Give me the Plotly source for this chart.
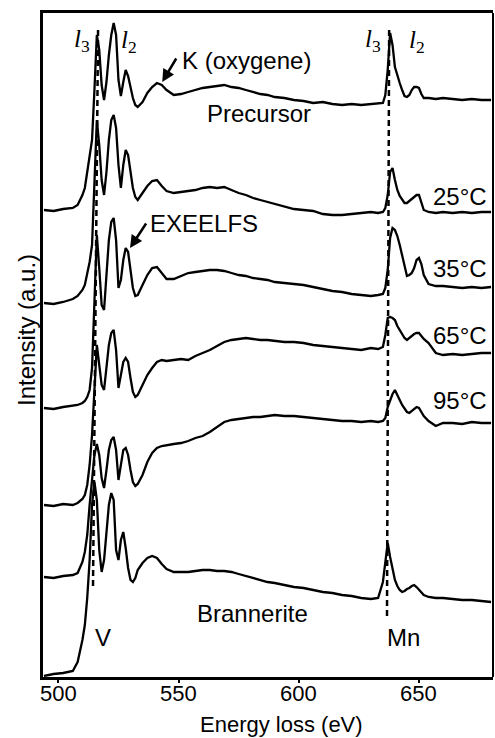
import plotly.graph_objects as go

# Energy grid (eV) shared by all spectra
energy = [494, 498, 502, 506, 508, 510, 511, 512, 513, 514,
          515, 516, 517, 518, 519, 520, 521, 522, 523, 524,
          525, 526, 527, 528, 529, 530, 531, 532, 533, 535,
          537, 539, 541, 543, 545, 548, 551, 554, 557, 560,
          563, 566, 569, 572, 575, 578, 581, 584, 587, 590,
          594, 598, 602, 606, 610, 614, 618, 622, 626, 630,
          633, 635, 636, 637, 638, 639, 640, 641, 642, 643,
          644, 645, 646, 647, 648, 649, 650, 651, 652, 654,
          657, 660, 664, 668, 672, 676, 680]

# Stacked EELS intensities (a.u., offset for display)
precursor = [490, 489, 491, 492, 495, 505, 512, 527, 542, 560,
             610, 665, 650, 615, 600, 618, 645, 665, 677, 665,
             620, 604, 618, 630, 624, 612, 602, 595, 593, 598,
             607, 613, 617, 615, 610, 605, 606, 608, 610, 612,
             613, 614, 615, 613, 612, 610, 608, 606, 605, 603,
             602, 600, 599, 597, 598, 596, 595, 596, 595, 596,
             596, 597, 605, 630, 667, 655, 633, 624, 617, 610,
             604, 603, 605, 610, 613, 613, 612, 606, 602, 602,
             601, 602, 601, 600, 601, 600, 600]

t25 = [397, 396, 398, 401, 404, 410, 415, 425, 438, 455,
       520, 580, 555, 520, 505, 528, 560, 580, 585, 572,
       535, 512, 535, 550, 545, 528, 512, 503, 500, 507,
       514, 519, 520, 514, 509, 507, 508, 509, 510, 512,
       513, 512, 513, 510, 507, 505, 502, 500, 498, 496,
       494, 491, 490, 489, 486, 485, 485, 486, 487, 488,
       487, 488, 492, 505, 528, 532, 520, 510, 504, 500,
       497, 497, 499, 501, 503, 505, 505, 497, 490, 488,
       487, 488, 487, 488, 487, 488, 488]

t35 = [292, 291, 293, 294, 295, 297, 299, 303, 310, 332,
       400, 465, 432, 395, 390, 428, 460, 478, 482, 460,
       412, 420, 440, 452, 448, 430, 412, 404, 405, 415,
       425, 432, 433, 427, 421, 421, 424, 427, 428, 429,
       430, 430, 429, 427, 425, 424, 422, 421, 420, 418,
       417, 416, 415, 413, 411, 409, 408, 406, 405, 404,
       405, 406, 412, 430, 462, 472, 470, 464, 455, 444,
       432, 424, 425, 427, 432, 440, 442, 436, 425, 416,
       414, 414, 413, 412, 413, 412, 413]

t65 = [195, 194, 196, 195, 197, 201, 205, 215, 235, 265,
       310, 355, 335, 315, 310, 335, 355, 367, 370, 350,
       312, 325, 338, 342, 338, 322, 308, 303, 305, 315,
       325, 332, 338, 340, 339, 340, 341, 340, 344, 347,
       350, 354, 358, 360, 361, 362, 361, 360, 360, 359,
       358, 358, 357, 355, 354, 353, 352, 351, 350, 352,
       351, 353, 365, 382, 383, 382, 380, 374, 370, 365,
       362, 360, 362, 364, 366, 367, 367, 364, 361, 357,
       347, 345, 346, 345, 346, 347, 347]

t95 = [123, 122, 124, 125, 127, 138, 148, 165, 195, 222,
       245, 256, 245, 222, 212, 230, 250, 260, 263, 250,
       220, 235, 250, 252, 245, 230, 218, 214, 216, 225,
       238, 247, 252, 254, 255, 256, 257, 259, 262, 264,
       268, 273, 278, 280, 281, 282, 283, 283, 284, 285,
       284, 284, 283, 282, 281, 280, 279, 279, 278, 279,
       278, 279, 282, 293, 300, 306, 310, 304, 300, 295,
       291, 288, 287, 289, 291, 293, 292, 288, 284, 279,
       274, 277, 277, 276, 278, 277, 277]

brannerite = [24, 26, 27, 29, 38, 60, 75, 102, 140, 195,
              218, 200, 150, 128, 140, 170, 195, 207, 200, 150,
              140, 160, 168, 152, 132, 120, 118, 122, 130, 137,
              142, 144, 142, 136, 131, 128, 128, 128, 129, 130,
              130, 129, 129, 128, 126, 124, 122, 120, 118, 117,
              115, 113, 112, 110, 108, 107, 105, 104, 102, 101,
              102, 118, 140, 157, 143, 130, 120, 114, 110, 108,
              109, 111, 112, 114, 115, 113, 110, 107, 105, 103,
              102, 102, 101, 100, 100, 99, 98]

spectra = [precursor, t25, t35, t65, t95, brannerite]

x_ticks = [500, 550, 600, 650]

# Edge guide lines (eV, intensity) for V L3 and Mn L3
v_edge = ([516.5, 514.4], [670, 113])
mn_edge = ([637.6, 636.7], [670, 83])

SANS = "Arial, Liberation Sans, sans-serif"
SERIF = "Times New Roman, Liberation Serif, serif"
FS = 24

fig = go.Figure()

for ex, ey in (v_edge, mn_edge):
    fig.add_trace(go.Scatter(x=ex, y=ey, mode="lines",
                             line=dict(color="black", width=2.5, dash="6px,4px"),
                             hoverinfo="skip", showlegend=False))

for s in spectra:
    fig.add_trace(go.Scatter(x=energy, y=s, mode="lines",
                             line=dict(color="black", width=2.3),
                             hoverinfo="skip", showlegend=False))

ann = []


def label(text, x, y, xanchor="center", size=FS, family=SANS):
    ann.append(dict(text=text, x=x, y=y, xref="x", yref="y", showarrow=False,
                    xanchor=xanchor, yanchor="middle",
                    font=dict(family=family, size=size, color="black")))


label("<i>l</i><sub>3</sub>", 509.9, 660, size=25, family=SERIF)
label("<i>l</i><sub>2</sub>", 529.4, 659, size=25, family=SERIF)
label("<i>l</i><sub>3</sub>", 630.9, 660, size=25, family=SERIF)
label("<i>l</i><sub>2</sub>", 649.2, 659, size=25, family=SERIF)
label("K (oxygene)", 550.6, 640, xanchor="left")
label("Precursor", 583.5, 587)
label("25°C", 679.2, 504, xanchor="right")
label("EXEELFS", 537.3, 477, xanchor="left")
label("35°C", 679.2, 432, xanchor="right")
label("65°C", 679.2, 365, xanchor="right")
label("95°C", 679.2, 300, xanchor="right")
label("Brannerite", 580.6, 87)
label("V", 518.6, 63)
label("Mn", 643.4, 63)

# Arrows pointing at features
for (hx, hy, tx, ty) in [(543.2, 618, 549.4, 643), (529.8, 452, 536.9, 478)]:
    ann.append(dict(text="", x=hx, y=hy, ax=tx, ay=ty, xref="x", yref="y",
                    axref="x", ayref="y", showarrow=True, arrowhead=2,
                    arrowsize=1, arrowwidth=2.5, arrowcolor="black", standoff=0))

# Tick labels on the energy axis, set just under the frame
for v in x_ticks:
    ann.append(dict(text=str(v), x=v, y=-0.0256, xref="x", yref="paper",
                    showarrow=False, xanchor="center", yanchor="middle", borderpad=0,
                    font=dict(family=SANS, size=22, color="black")))

# Axis titles
ann.append(dict(text="Energy loss (eV)", x=593.0, y=-0.0715, xref="x", yref="paper",
                showarrow=False, xanchor="center", yanchor="middle", borderpad=0,
                font=dict(family=SANS, size=22, color="black")))
ann.append(dict(text="Intensity (a.u.)", x=-0.0356, y=0.5226, xref="paper", yref="paper",
                showarrow=False, textangle=-90, xanchor="center", yanchor="middle",
                font=dict(family=SANS, size=FS, color="black")))

fig.update_layout(
    width=495, height=738,
    margin=dict(l=43, r=2, t=13, b=61),
    paper_bgcolor="white", plot_bgcolor="white",
    annotations=ann,
    shapes=[dict(type="line", xref="paper", yref="paper", x0=1, x1=1, y0=0, y1=1,
                 line=dict(color="black", width=2))],
    xaxis=dict(range=[493.6, 680.8], tickvals=x_ticks, showticklabels=False,
               ticks="outside", ticklen=3, tickwidth=2, tickcolor="black",
               showline=True, mirror=True, linewidth=3, linecolor="black",
               showgrid=False, zeroline=False),
    yaxis=dict(range=[23, 687], showticklabels=False, ticks="",
               showline=True, mirror=False, linewidth=3, linecolor="black",
               showgrid=False, zeroline=False),
)

fig.write_html("out.html")
